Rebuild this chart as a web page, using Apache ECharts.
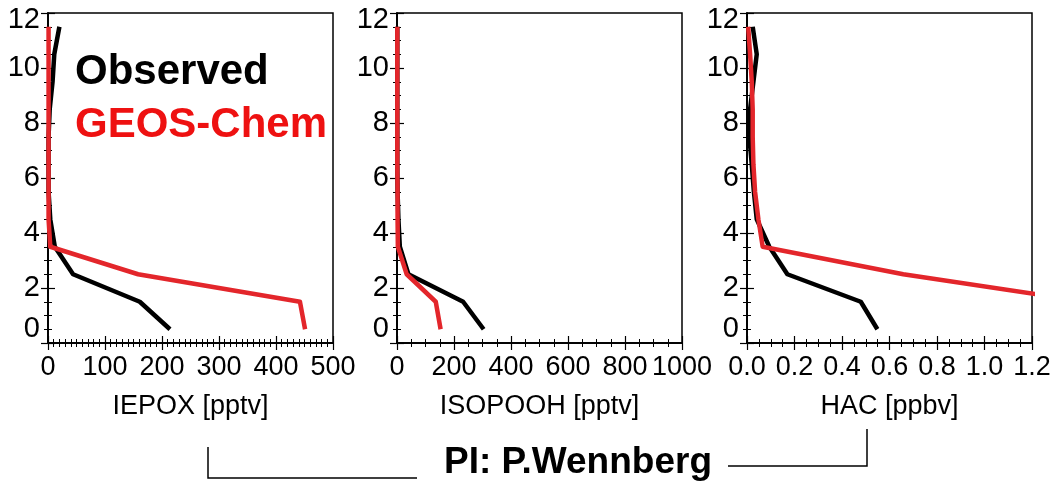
<!DOCTYPE html>
<html><head><meta charset="utf-8">
<script src="https://cdn.jsdelivr.net/npm/echarts@6/dist/echarts.min.js"></script>
<style>html,body{margin:0;padding:0;background:#fff}#c{width:1057px;height:485px}</style>
</head><body><div id="c"></div>
<script>
const altitudeKm = [0.5, 1.5, 2.5, 3.5, 4.5, 5.5, 6.5, 7.5, 8.5, 9.5, 10.5, 11.5];
const iepoxObserved = [214, 161, 44, 12, 4, 1, 1, 1, 3, 8, 11, 20];
const iepoxModel = [451, 442, 158, 4, 1, 1, 1, 1, 1, 1, 1, 1];
const isopoohObserved = [304, 232, 40, 10, 5, 2, 1, 1, 1, 1, 1, 1];
const isopoohModel = [153, 136, 34, 3, 2, 2, 1, 1, 1, 1, 1, 1];
const hacObserved = [0.549, 0.479, 0.170, 0.094, 0.041, 0.029, 0.020, 0.010, 0.013, 0.027, 0.041, 0.024];
const hacModel = [1.5, 1.43, 0.658, 0.066, 0.048, 0.034, 0.027, 0.024, 0.024, 0.020, 0.013, 0.005];
const panelNames = ['IEPOX [pptv]', 'ISOPOOH [pptv]', 'HAC [ppbv]'];
const xMaxima = [500, 1000, 1.2];
const xIntervals = [100, 200, 0.2];
const xMinorSplits = [10, 4, 4];
const xDecimals = [0, 0, 1];
const yTicks = [0, 2, 4, 6, 8, 10, 12];
const seriesNames = ['Observed', 'GEOS-Chem'];
const piLabel = 'PI: P.Wennberg';

const observedSets = [iepoxObserved, isopoohObserved, hacObserved];
const modelSets = [iepoxModel, isopoohModel, hacModel];

const BLACK = '#000000';
const RED = '#e3262b';
const SANS = '"Liberation Sans", Arial, Helvetica, sans-serif';
const TICK_FONT = 27;

const gridLefts = [48, 397, 747];
const grids = gridLefts.map(l => ({
  left: l, top: 13, width: 285, height: 330,
  show: true, borderColor: BLACK, borderWidth: 1.5, backgroundColor: 'transparent'
}));

const yMax = yTicks[yTicks.length - 1];
const xAxes = [], yAxes = [], series = [];
for (let i = 0; i < 3; i++) {
  const common = {
    type: 'value', gridIndex: i, min: 0, max: xMaxima[i], interval: xIntervals[i],
    axisLine: { show: true, lineStyle: { color: BLACK, width: 1.5 } },
    axisTick: { show: true, inside: true, length: 7, lineStyle: { color: BLACK, width: 1.2 } },
    minorTick: { show: true, splitNumber: xMinorSplits[i], length: 4, lineStyle: { color: BLACK, width: 1 } },
    splitLine: { show: false }, minorSplitLine: { show: false }
  };
  xAxes.push(Object.assign({}, common, {
    position: 'bottom', name: panelNames[i], nameLocation: 'middle', nameGap: 50,
    nameTextStyle: { fontFamily: SANS, fontSize: 27, color: BLACK },
    axisLabel: { show: true, margin: 11, fontFamily: SANS, fontSize: TICK_FONT, color: BLACK,
      showMinLabel: true, showMaxLabel: true, hideOverlap: false,
      formatter: v => Number(v).toFixed(xDecimals[i]) }
  }));
  xAxes.push(Object.assign({}, common, { position: 'top', axisLabel: { show: false } }));

  const yCommon = {
    type: 'value', gridIndex: i, min: yTicks[0], max: yMax, interval: yTicks[1] - yTicks[0],
    axisLine: { show: true, lineStyle: { color: BLACK, width: 1.5 } },
    axisTick: { show: true, inside: true, length: 7, lineStyle: { color: BLACK, width: 1.2 } },
    minorTick: { show: true, splitNumber: 4, length: 4, lineStyle: { color: BLACK, width: 1 } },
    splitLine: { show: false }, minorSplitLine: { show: false }
  };
  yAxes.push(Object.assign({}, yCommon, {
    position: 'left',
    axisLabel: { show: true, margin: 8, fontFamily: SANS, fontSize: 29, color: BLACK,
      showMinLabel: true, showMaxLabel: true,
      verticalAlignMinLabel: 'bottom',
      formatter: v => (v === yMax ? '{hi|' + v + '}' : String(v)),
      rich: { hi: { fontFamily: SANS, fontSize: 29, color: BLACK, padding: [14, 0, 0, 0] } } }
  }));
  yAxes.push(Object.assign({}, yCommon, { position: 'right', axisLabel: { show: false } }));

  const sets = [observedSets[i], modelSets[i]];
  const colors = [BLACK, RED];
  for (let s = 0; s < 2; s++) {
    series.push({
      name: seriesNames[s], type: 'line', xAxisIndex: 2 * i, yAxisIndex: 2 * i,
      data: sets[s].map((v, k) => [v, altitudeKm[k]]),
      showSymbol: false, symbol: 'none', clip: true, z: s === 0 ? 2 : 3,
      lineStyle: { color: colors[s], width: 4.5, join: 'round' },
      itemStyle: { color: colors[s] }
    });
  }
}

const chart = echarts.init(document.getElementById('c'), null, { renderer: 'canvas' });
chart.setOption({
  animation: false,
  backgroundColor: '#ffffff',
  grid: grids,
  xAxis: xAxes,
  yAxis: yAxes,
  series: series,
  legend: {
    orient: 'vertical', left: 65, top: 46, itemWidth: 0, itemHeight: 0, itemGap: 11,
    icon: 'rect', selectedMode: false,
    data: [
      { name: seriesNames[0], textStyle: { color: BLACK } },
      { name: seriesNames[1], textStyle: { color: '#ee1111' } }
    ],
    textStyle: { fontFamily: SANS, fontWeight: 'bold', fontSize: 42, lineHeight: 42 }
  },
  graphic: [
    { type: 'polyline', shape: { points: [[208, 447], [208, 478], [417, 478]] },
      style: { stroke: BLACK, lineWidth: 1.5, fill: null } },
    { type: 'polyline', shape: { points: [[728, 466], [867, 466], [867, 429]] },
      style: { stroke: BLACK, lineWidth: 1.5, fill: null } },
    { type: 'text', x: 578, y: 463,
      style: { text: piLabel, font: 'bold 37px "Liberation Sans", Arial, sans-serif', fill: BLACK,
        align: 'center', verticalAlign: 'middle' } }
  ]
});
</script>
</body></html>
